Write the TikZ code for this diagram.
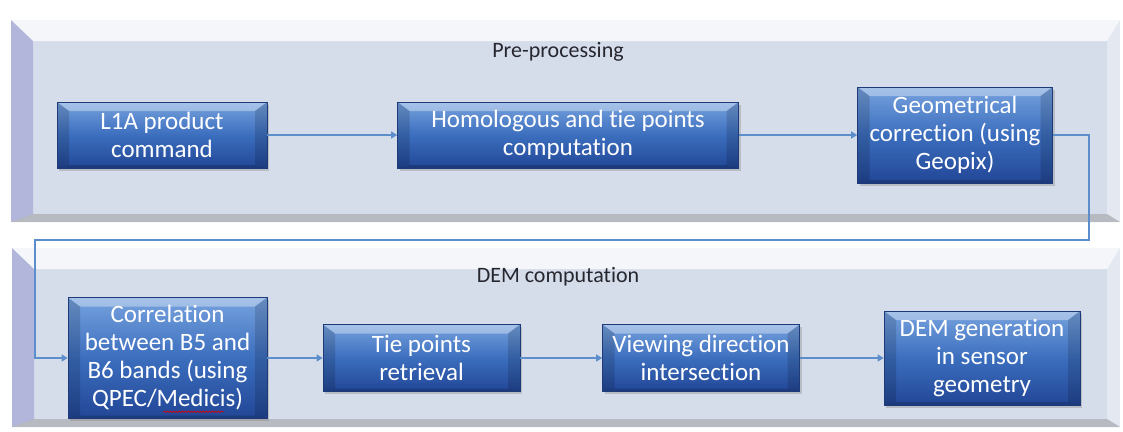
\documentclass[tikz,border=0pt]{standalone}
\usepackage{fontspec}
\newfontfamily\calibri[Ligatures=NoCommon]{Carlito}
\usetikzlibrary{arrows.meta,shadows,decorations.pathmorphing}

\definecolor{stagetop}{RGB}{118,162,222}
\definecolor{stagemid}{RGB}{60,110,190}
\definecolor{stagebot}{RGB}{34,70,150}
\definecolor{stageedge}{RGB}{30,58,120}
\definecolor{panelface}{RGB}{214,221,234}
\definecolor{flowline}{RGB}{92,142,204}
\definecolor{titlegray}{RGB}{38,38,46}

% bevel faces inside a node: widths top/right/bottom/left, then their fills
\newcommand\bevelfaces[8]{%
  \coordinate (bvnw) at (path picture bounding box.north west);
  \coordinate (bvne) at (path picture bounding box.north east);
  \coordinate (bvsw) at (path picture bounding box.south west);
  \coordinate (bvse) at (path picture bounding box.south east);
  \fill[#5] (bvnw) -- (bvne) -- ([xshift=-#2,yshift=-#1]bvne) -- ([xshift=#4,yshift=-#1]bvnw) -- cycle;
  \fill[#6] (bvne) -- (bvse) -- ([xshift=-#2,yshift=#3]bvse) -- ([xshift=-#2,yshift=-#1]bvne) -- cycle;
  \fill[#7] (bvse) -- (bvsw) -- ([xshift=#4,yshift=#3]bvsw) -- ([xshift=-#2,yshift=#3]bvse) -- cycle;
  \fill[#8] (bvsw) -- (bvnw) -- ([xshift=#4,yshift=-#1]bvnw) -- ([xshift=#4,yshift=#3]bvsw) -- cycle;
}

\begin{document}
\begin{tikzpicture}[x=1pt, y=-1pt,
    panel/.style={rectangle, fill=panelface, inner sep=0pt,
      path picture={\bevelfaces{21pt}{13pt}{8pt}{22pt}%
        {white,opacity=.75}{white,opacity=.35}{black!40,opacity=.5}{black!45!blue!60,opacity=.32}}},
    panel title/.style={font=\calibri\fontsize{22}{26}\selectfont, text=titlegray},
    stage/.style={rectangle, draw=stageedge, line width=.6pt,
      top color=stagetop, bottom color=stagebot, middle color=stagemid,
      text=white, align=center, inner sep=0pt,
      font=\calibri\fontsize{25}{28}\selectfont,
      drop shadow={opacity=.35, shadow xshift=2pt, shadow yshift=-2.5pt},
      path picture={\bevelfaces{9pt}{12pt}{3pt}{12pt}%
        {white,opacity=.35}{black,opacity=.14}{black,opacity=.18}{black,opacity=.14}}},
    flow/.style={draw=flowline, line width=1.2pt,
      -{Triangle[width=7pt,length=6pt]}}]

  \useasboundingbox[fill=white] (0,0) rectangle (1123,431);

  % the two stages of the chain
  \node[panel, minimum width=1109pt, minimum height=202pt] (prepanel) at (565.5,121) {};
  \node[panel, minimum width=1108pt, minimum height=179pt] (dempanel) at (566,337.5) {};
  \node[panel title] (pretitle) at (558,52) {Pre-processing};
  \node[panel title] (demtitle) at (558,277) {DEM computation};

  % pre-processing steps
  \node[stage, minimum width=210pt, minimum height=66pt] (l1a) at (162,135) {L1A product\\command};
  \node[stage, minimum width=341pt, minimum height=66pt] (homol) at (568,135) {Homologous and tie points\\computation};
  \node[stage, minimum width=195pt, minimum height=96pt] (geo) at (955,135) {Geometrical\\correction (using\\Geopix)};

  % DEM computation steps
  \node[stage, minimum width=199pt, minimum height=121pt] (corr) at (167.5,358) {Correlation\\between B5 and\\B6 bands (using\\QPEC/Medicis)};
  \node[stage, minimum width=197pt, minimum height=67pt] (tie) at (421.5,358) {Tie points\\retrieval};
  \node[stage, minimum width=197pt, minimum height=67pt] (view) at (701,358) {Viewing direction\\intersection};
  \node[stage, minimum width=196pt, minimum height=94pt] (demgen) at (982,358) {DEM generation\\in sensor\\geometry};

  % spell-check squiggle under Medicis
  \draw[red!85!black, line width=.7pt, decorate,
    decoration={snake, amplitude=.7pt, segment length=3pt}]
    ([xshift=-4pt,yshift=7pt]corr.south) -- ([xshift=56pt,yshift=7pt]corr.south);

  \coordinate (rturn) at (1089,240);
  \coordinate (lturn) at (35,240);

  \draw[flow] (l1a) -- (homol);
  \draw[flow] (homol) -- (geo);
  \draw[flow] (geo.east) -| (rturn) -- (lturn) |- (corr.west);
  \draw[flow] (corr) -- (tie);
  \draw[flow] (tie) -- (view);
  \draw[flow] (view) -- (demgen);

\end{tikzpicture}
\end{document}
